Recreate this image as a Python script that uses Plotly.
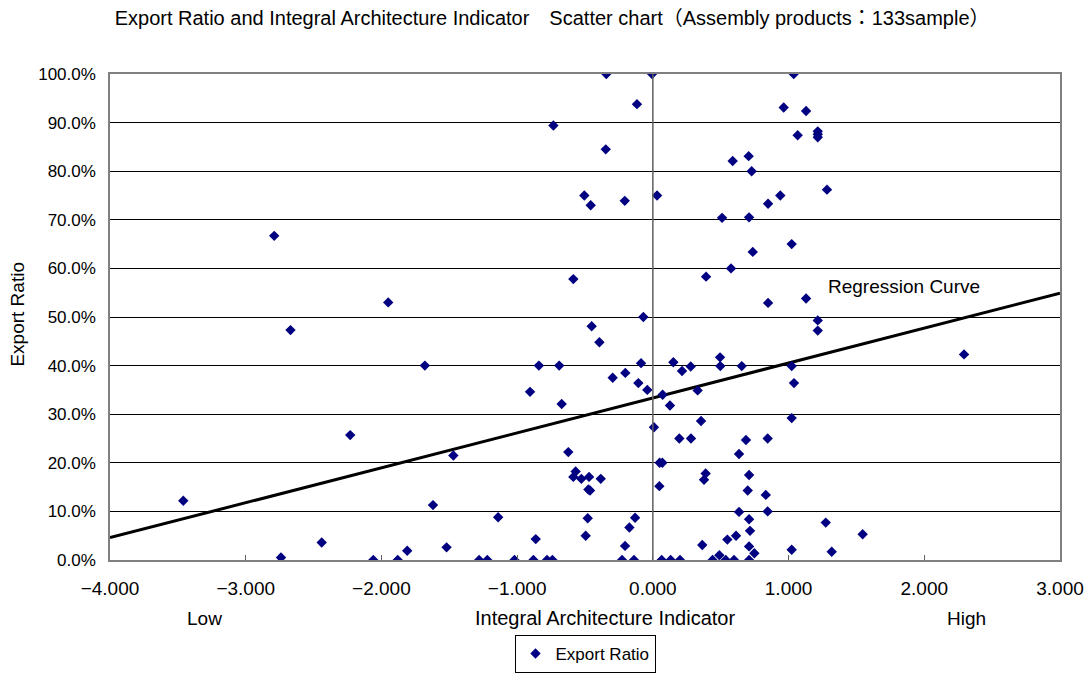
import plotly.graph_objects as go

# Integral architecture indicator (x) and export ratio in percent (y)
indicator = [
    -3.46, -2.79, -2.74, -2.67, -2.44, -2.23, -2.06, -1.95, -1.88, -1.81,
    -1.68, -1.62, -1.52, -1.47, -1.28, -1.22, -1.14, -1.02, -0.905, -0.88,
    -0.863, -0.84, -0.78, -0.74, -0.733, -0.69, -0.672, -0.623, -0.586, -0.569,
    -0.586, -0.527, -0.505, -0.495, -0.48, -0.475, -0.463, -0.47, -0.458, -0.451,
    -0.394, -0.384, -0.347, -0.343, -0.296, -0.227, -0.207, -0.205, -0.203, -0.173,
    -0.139, -0.131, -0.117, -0.107, -0.087, -0.07, -0.041, -0.006, 0.008, 0.031,
    0.048, 0.05, 0.07, 0.065, 0.072, 0.126, 0.131, 0.151, 0.195, 0.20,
    0.215, 0.279, 0.281, 0.33, 0.355, 0.364, 0.377, 0.389, 0.392, 0.44,
    0.49, 0.495, 0.497, 0.51, 0.537, 0.549, 0.576, 0.588, 0.598, 0.613,
    0.635, 0.635, 0.655, 0.686, 0.699, 0.706, 0.709, 0.709, 0.709, 0.716,
    0.709, 0.709, 0.728, 0.736, 0.748, 0.832, 0.846, 0.846, 0.849, 0.849,
    0.939, 0.964, 1.023, 1.023, 1.023, 1.023, 1.038, 1.04, 1.067, 1.129,
    1.129, 1.215, 1.215, 1.215, 1.215, 1.215, 1.274, 1.283, 1.318, 1.546,
    2.293,
]
export_pct = [
    12.2, 66.7, 0.5, 47.3, 3.6, 25.7, 0.0, 53.0, 0.0, 1.9,
    40.0, 11.3, 2.6, 21.5, 0.0, 0.0, 8.8, 0.0, 34.6, 0.0,
    4.3, 40.0, 0.0, 0.0, 89.4, 40.0, 32.1, 22.2, 57.8, 18.2,
    17.1, 16.7, 75.0, 5.0, 8.6, 14.5, 14.3, 17.1, 73.0, 48.1,
    44.8, 16.7, 84.5, 100.0, 37.5, 0.0, 73.9, 2.9, 38.5, 6.7,
    0.0, 8.7, 93.8, 36.4, 40.5, 50.0, 35.0, 100.0, 27.3, 75.0,
    15.2, 20.0, 20.0, 0.0, 34.0, 31.8, 0.0, 40.7, 25.0, 0.0,
    38.9, 39.8, 25.0, 34.9, 28.6, 3.1, 16.5, 17.8, 58.3, 0.0,
    1.0, 41.7, 39.9, 70.4, 0.0, 4.2, 60.0, 82.1, 0.0, 5.0,
    21.8, 9.9, 39.9, 24.7, 14.3, 83.1, 70.5, 17.5, 8.4, 6.0,
    2.8, 0.0, 80.0, 63.4, 1.4, 13.4, 25.0, 10.0, 73.3, 52.9,
    75.0, 93.1, 65.0, 39.9, 29.2, 2.1, 100.0, 36.4, 87.4, 92.4,
    53.8, 88.2, 87.6, 87.0, 49.3, 47.2, 7.7, 76.2, 1.7, 5.3,
    42.3,
]

# Regression line end points (x, percent)
reg_x = [-4.0, 3.0]
reg_pct = [4.6, 54.9]

x_ticks = [-4, -3, -2, -1, 0, 1, 2, 3]
y_ticks = [0, 10, 20, 30, 40, 50, 60, 70, 80, 90, 100]

text_font = "Liberation Sans, Noto Sans CJK JP, sans-serif"

fig = go.Figure()

fig.add_trace(go.Scatter(
    x=reg_x, y=[v / 100 for v in reg_pct], mode="lines",
    line=dict(color="black", width=3), showlegend=False, hoverinfo="skip",
))

fig.add_trace(go.Scatter(
    x=indicator, y=[v / 100 for v in export_pct], mode="markers",
    name="Export Ratio",
    marker=dict(symbol="diamond", size=8, color="#000080"),
))

# vertical axis line at x = 0
fig.add_shape(type="line", xref="x", yref="paper", x0=0, x1=0, y0=0, y1=1,
              line=dict(color="#606060", width=1.5), layer="above")

label_font = dict(family=text_font, size=19, color="black")
fig.add_annotation(text="Regression Curve", x=1.848, y=0.563, xref="x", yref="y",
                   showarrow=False, font=label_font)
for txt, xpos, fsize in [("Low", -3.307, 19),
                         ("Integral Architecture Indicator", -0.352, 20),
                         ("High", 2.308, 19)]:
    fig.add_annotation(text=txt, x=xpos, xref="x", y=0, yref="paper",
                       yanchor="middle", yshift=-58, showarrow=False,
                       font=dict(family=text_font, size=fsize, color="black"))
fig.add_annotation(text="Export Ratio", x=0, xref="paper", xanchor="center",
                   xshift=-92, y=0.505, yref="paper", yanchor="middle",
                   textangle=-90, showarrow=False, font=label_font)

fig.update_layout(
    width=1089, height=675,
    margin=dict(l=110, r=29, t=74, b=115, autoexpand=False),
    paper_bgcolor="white", plot_bgcolor="white",
    title=dict(
        text="Export Ratio and Integral Architecture Indicator\u3000Scatter chart\uff08Assembly products\uff1a133sample\uff09",
        x=0.507, xanchor="center", xref="container", y=0.973, yanchor="middle",
        font=dict(family=text_font, size=20, color="black"),
    ),
    xaxis=dict(
        range=[-4, 3], tickvals=x_ticks, tickformat=".3f",
        showgrid=False, zeroline=False,
        showline=True, linecolor="#808080", linewidth=1.5, mirror=True,
        ticks="inside", ticklen=5, tickcolor="#606060",
        ticklabelstandoff=10,
        tickfont=dict(family=text_font, size=19, color="black"),
    ),
    yaxis=dict(
        range=[0, 1], tickvals=[v / 100 for v in y_ticks], tickformat=".1%",
        showgrid=True, gridcolor="black", gridwidth=1, zeroline=False,
        showline=True, linecolor="#808080", linewidth=1.5, mirror=True,
        ticks="", ticklabelstandoff=9,
        tickfont=dict(family=text_font, size=17, color="black"),
    ),
    legend=dict(
        orientation="h", x=0.5, xanchor="center", xref="paper",
        y=-113 / 486, yanchor="bottom", yref="paper",
        bordercolor="black", borderwidth=1,
        font=dict(family=text_font, size=17, color="black"),
    ),
)

fig.write_html("out.html")
